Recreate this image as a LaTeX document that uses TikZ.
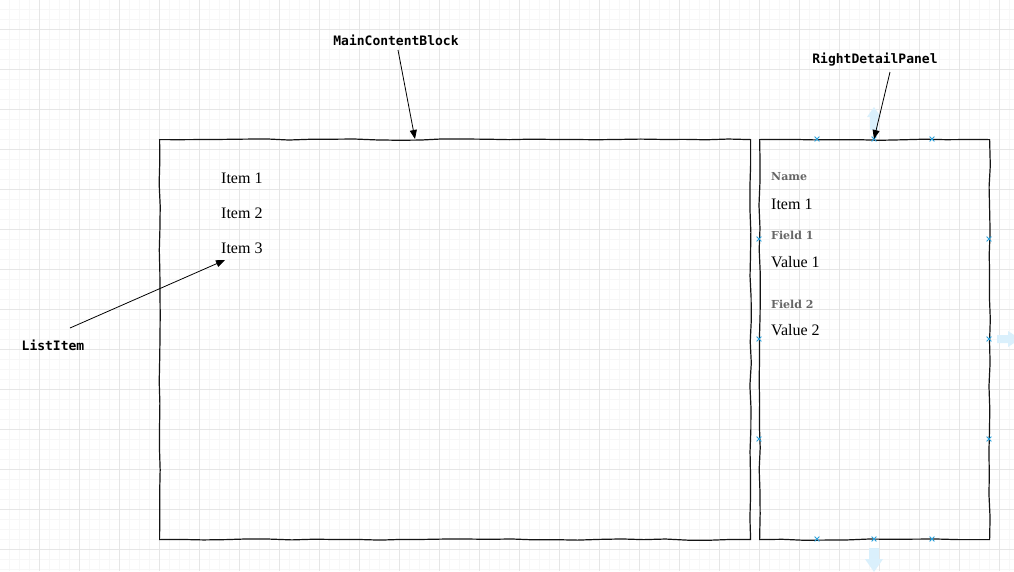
\documentclass[tikz,border=0pt]{standalone}
\usepackage{fontspec}
\setmainfont{Liberation Serif}
\newfontfamily\monob{DejaVu Sans Mono}
\newfontfamily\dserif{DejaVu Serif}
\usetikzlibrary{decorations.pathmorphing,arrows.meta,shapes.misc,calc}
\definecolor{gridminor}{RGB}{247,247,247}
\definecolor{gridmajor}{RGB}{230,230,230}
\definecolor{markblue}{RGB}{41,160,220}
\definecolor{hoverblue}{RGB}{218,240,252}
\definecolor{fieldgray}{RGB}{102,102,102}
\tikzset{
  sketchbox/.style={draw=black!92, line width=1.2pt, inner sep=0pt, anchor=north west,
    decorate, decoration={random steps, segment length=22pt, amplitude=0.7pt}},
  calloutlbl/.style={font=\monob\bfseries\fontsize{13}{15}\selectfont, inner sep=2pt},
  callout/.style={draw=black, line width=0.8pt, -{Triangle[length=9pt,width=7pt]}},
  itemtxt/.style={font=\fontsize{16}{18}\selectfont, anchor=west, inner sep=0pt},
  fieldlbl/.style={font=\dserif\bfseries\fontsize{11}{13}\selectfont, text=fieldgray, anchor=west, inner sep=0pt},
  markx/.style={cross out, draw=markblue, line width=0.8pt, minimum size=4pt, inner sep=0pt},
  hoverarrow/.style={fill=hoverblue, draw=none}
}
\begin{document}
\begin{tikzpicture}[x=1pt,y=-1pt]
\pgfmathsetseed{7}
\useasboundingbox (0,0) rectangle (1014,571);
\clip (0,0) rectangle (1014,571);
\fill[white] (0,0) rectangle (1014,571);
% grid
\foreach \i in {0,...,101} {\draw[gridminor, line width=0.7pt] ({10*\i-1},0) -- ({10*\i-1},571);}
\foreach \j in {0,...,57} {\draw[gridminor, line width=0.7pt] (0,{10*\j-1}) -- (1014,{10*\j-1});}
\foreach \i in {1,...,25} {\draw[gridmajor, line width=0.8pt] ({40*\i-1},0) -- ({40*\i-1},571);}
\foreach \j in {0,...,13} {\draw[gridmajor, line width=0.8pt] (0,{40*\j+29}) -- (1014,{40*\j+29});}
% hover arrows
\path[hoverarrow] (870,130) -- (870,117) -- (867,117) -- (874,107) -- (881,117) -- (878,117) -- (878,130) -- cycle;
\path[hoverarrow] (869,548) -- (869,559) -- (865,559) -- (874,572) -- (883,559) -- (879,559) -- (879,548) -- cycle;
\path[hoverarrow] (997,335) -- (1008,335) -- (1008,331) -- (1020,339) -- (1008,347) -- (1008,343) -- (997,343) -- cycle;
% boxes
\node[sketchbox, minimum width=591pt, minimum height=400pt] (main) at (159,139) {};
\node[sketchbox, minimum width=230pt, minimum height=400pt] (panel) at (759,139) {};
% markers
\foreach \p [count=\k] in {(817,139),(874,139),(932,139),(817,539),(874,539),(932,539),(759,239),(759,339),(759,439),(989,239),(989,339),(989,439)}
  {\node[markx] (m\k) at \p {};}
% list items
\node[itemtxt] (it1) at (221,178) {Item 1};
\node[itemtxt] (it2) at (221,213) {Item 2};
\node[itemtxt] (it3) at (221,248) {Item 3};
% detail panel
\node[fieldlbl] (fname) at (771,177) {Name};
\node[itemtxt] (vname) at (771,204) {Item 1};
\node[fieldlbl] (f1) at (771,235) {Field 1};
\node[itemtxt] (v1) at (771,262) {Value 1};
\node[fieldlbl] (f2) at (771,304) {Field 2};
\node[itemtxt] (v2) at (771,330) {Value 2};
% callouts
\node[calloutlbl] (mcb) at (396,40) {MainContentBlock};
\node[calloutlbl] (rdp) at (875,60) {RightDetailPanel};
\node[calloutlbl] (li) at (53,345) {ListItem};
\coordinate (mcbS) at (398,50);
\coordinate (mainT) at (415,139);
\coordinate (rdpS) at (890,72);
\coordinate (panelT) at (874,139);
\coordinate (liS) at (70,328);
\coordinate (it3T) at (225,260);
\draw[callout] (mcbS) -- (mainT);
\draw[callout] (rdpS) -- (panelT);
\draw[callout] (liS) -- (it3T);
\end{tikzpicture}
\end{document}
